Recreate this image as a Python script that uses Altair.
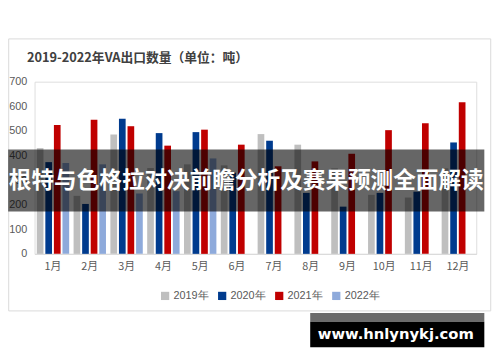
import altair as alt
import pandas as pd

months = ["1月", "2月", "3月", "4月", "5月", "6月", "7月", "8月", "9月", "10月", "11月", "12月"]
years = ["2019年", "2020年", "2021年", "2022年"]
v2019 = [430, 236, 485, 349, 364, 360, 487, 444, 348, 240, 229, 348]
v2020 = [373, 203, 549, 491, 495, 330, 460, 248, 192, 248, 253, 453]
v2021 = [524, 545, 519, 440, 505, 444, 356, 376, 407, 503, 531, 616]
v2022 = [369, 364, 245, 255, 388]
colors = ["#bfbfbf", "#003b8e", "#c00000", "#8eaadb"]

title_text = "2019-2022年VA出口数量（单位：吨）"
banner_text = "根特与色格拉对决前瞻分析及赛果预测全面解读"
site_text = "www.hnlynykj.com"

rows = []
for yr, vals in zip(years, [v2019, v2020, v2021, v2022]):
    for m, v in zip(months, vals):
        rows.append({"month": m, "year": yr, "value": v})
df = pd.DataFrame(rows)
one = pd.DataFrame({"k": [0]})

# plot area origin on page: (34.8, 80)
OX, OY = 34.8, 80.0
W, H = 449, 175

def px(x):
    return x - OX

def py(y):
    return y - OY

border = alt.Chart(one).mark_rect(fillOpacity=0, stroke="#d9d9d9", strokeWidth=1).encode(
    x=alt.value(px(8.5)), x2=alt.value(px(498.5)),
    y=alt.value(py(36.5)), y2=alt.value(py(313)),
)

title = alt.Chart(one).mark_text(
    text=title_text, align="left", baseline="middle", fontSize=13, fontWeight="bold",
    color="#404040", font="Noto Sans CJK SC",
).encode(x=alt.value(px(27)), y=alt.value(py(56)))

bars = alt.Chart(df).mark_bar().encode(
    x=alt.X("month:N", sort=months, title=None,
            scale=alt.Scale(paddingInner=0.12, paddingOuter=0.06),
            axis=alt.Axis(labelAngle=0, ticks=False, domainColor="#d9d9d9", labelPadding=7,
                          labelColor="#595959", labelFontSize=11, labelFont="Noto Sans CJK SC")),
    xOffset=alt.XOffset("year:N", scale=alt.Scale(domain=years, paddingInner=0.22)),
    y=alt.Y("value:Q", title=None,
            scale=alt.Scale(domain=[0, 700]),
            axis=alt.Axis(values=[0, 100, 200, 300, 400, 500, 600, 700], grid=False, domain=False,
                          ticks=False, labelPadding=8, labelColor="#595959", labelFontSize=11)),
    color=alt.Color("year:N", scale=alt.Scale(domain=years, range=colors),
                    legend=alt.Legend(title=None, orient="none", direction="horizontal",
                                      legendX=px(162), legendY=py(292), symbolType="square",
                                      symbolSize=70, symbolStrokeWidth=0, labelFontSize=11,
                                      labelColor="#595959", columnPadding=8, labelOffset=3)),
)

banner = alt.Chart(one).mark_rect(color="black", opacity=0.6).encode(
    x=alt.value(px(8)), x2=alt.value(px(492)),
    y=alt.value(py(149)), y2=alt.value(py(212)),
)
banner_t = alt.Chart(one).mark_text(
    text=banner_text, align="center", baseline="middle", fontSize=23, fontWeight="bold",
    color="white", font="Noto Sans CJK SC",
).encode(x=alt.value(px(250)), y=alt.value(py(181)))

site_gray = alt.Chart(one).mark_rect(color="#6b6b6b").encode(
    x=alt.value(px(315)), x2=alt.value(px(492)),
    y=alt.value(py(315)), y2=alt.value(py(324)),
)
site_black = alt.Chart(one).mark_rect(color="black").encode(
    x=alt.value(px(315)), x2=alt.value(px(492)),
    y=alt.value(py(324)), y2=alt.value(py(350)),
)
site_t = alt.Chart(one).mark_text(
    text=site_text, align="center", baseline="middle", fontSize=15, fontWeight="bold",
    color="white", font="DejaVu Sans",
).encode(x=alt.value(px(402)), y=alt.value(py(337)))

chart = alt.layer(border, title, bars, banner, banner_t, site_gray, site_black, site_t).properties(
    width=W, height=H,
    autosize=alt.AutoSizeParams(type="none"),
    padding={"left": 27, "top": 72, "right": 16, "bottom": 107},
).configure_view(stroke=None).configure(background="white")

chart.save("out.html", embed_options={"renderer": "svg", "actions": False})
